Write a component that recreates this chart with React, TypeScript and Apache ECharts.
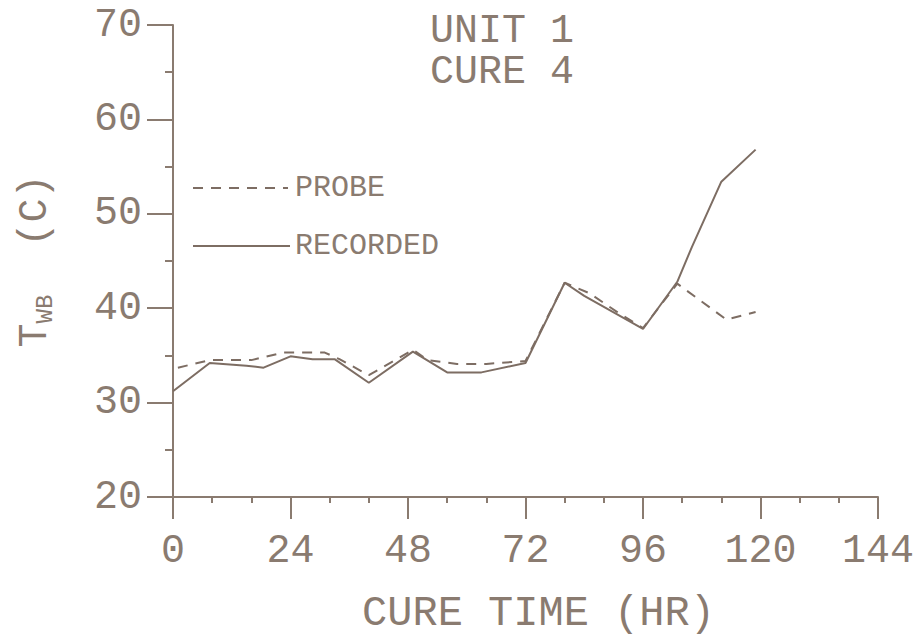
import React, { useEffect, useRef } from "react";
import * as echarts from "echarts";

// Cure time (hr) and wet-bulb temperature (C)
const recordedHours = [0, 7.5, 15, 18.5, 24, 28.5, 33, 40, 49, 56, 63, 72, 80, 84, 96, 103, 106, 112, 119];
const recordedTemps = [31.2, 34.2, 33.9, 33.7, 34.9, 34.6, 34.6, 32.1, 35.4, 33.2, 33.2, 34.2, 42.7, 41.3, 37.8, 42.8, 46.5, 53.4, 56.8];

const probeHours = [1, 7.5, 16, 22.5, 31, 34, 40, 49, 52, 58, 64, 72, 80, 85, 91, 96, 103, 113, 119];
const probeTemps = [33.7, 34.5, 34.5, 35.3, 35.3, 34.6, 32.9, 35.6, 34.5, 34.1, 34.1, 34.4, 42.7, 41.6, 39.5, 37.9, 42.6, 38.8, 39.6];

const xTicks = [0, 24, 48, 72, 96, 120, 144];
const yTicks = [20, 30, 40, 50, 60, 70];

const titleLines = ["UNIT 1", "CURE 4"];
const seriesNames = ["PROBE", "RECORDED"];

const INK = "#8a7b70";
const LINE = "#7d6d63";
const FONT = "Liberation Mono";

export default function App() {
  const ref = useRef<HTMLDivElement>(null);
  useEffect(() => {
    if (!ref.current) return;
    const chart = echarts.init(ref.current, null, { renderer: "svg" });
    const probe = probeHours.map((h, i) => [h, probeTemps[i]]);
    const recorded = recordedHours.map((h, i) => [h, recordedTemps[i]]);
    chart.setOption({
      animation: false,
      backgroundColor: "#ffffff",
      title: {
        text: titleLines.join("\n"),
        left: 425,
        top: 6,
        textStyle: { fontFamily: FONT, fontSize: 40, fontWeight: "normal", color: INK, lineHeight: 41 },
      },
      grid: { left: 173, right: 36, top: 25, bottom: 144, outerBoundsMode: "none", containLabel: false },
      xAxis: {
        type: "value",
        min: xTicks[0],
        max: xTicks[xTicks.length - 1],
        interval: 24,
        name: "CURE TIME (HR)",
        nameLocation: "middle",
        nameGap: 96,
        nameTextStyle: { fontFamily: FONT, fontSize: 42, color: INK, padding: [0, 0, 0, 26] },
        axisLine: { show: true, onZero: false, lineStyle: { color: INK, width: 2 } },
        axisTick: { show: true, length: 22, lineStyle: { color: INK, width: 2 } },
        minorTick: { show: true, splitNumber: 3, length: 6, lineStyle: { color: INK, width: 2 } },
        splitLine: { show: false },
        minorSplitLine: { show: false },
        axisLabel: {
          margin: 34,
          fontFamily: FONT,
          fontSize: 40,
          color: INK,
          formatter: (v: number) => (xTicks.includes(v) ? String(v) : ""),
        },
      },
      yAxis: {
        type: "value",
        min: yTicks[0],
        max: yTicks[yTicks.length - 1],
        interval: 10,
        name: "{t|T}{s|WB}{t|  (C)}",
        nameLocation: "middle",
        nameGap: 116,
        nameRotate: 90,
        nameTextStyle: {
          color: INK,
          rich: {
            t: { fontFamily: FONT, fontSize: 40, color: INK, lineHeight: 44, verticalAlign: "middle" },
            s: { fontFamily: FONT, fontSize: 24, color: INK, lineHeight: 44, verticalAlign: "bottom", padding: [14, 0, 0, 0] },
          },
        },
        axisLine: { show: true, onZero: false, lineStyle: { color: INK, width: 2 } },
        axisTick: { show: true, length: 26, lineStyle: { color: INK, width: 2 } },
        minorTick: { show: true, splitNumber: 2, length: 8, lineStyle: { color: INK, width: 2 } },
        splitLine: { show: false },
        minorSplitLine: { show: false },
        axisLabel: { margin: 31, fontFamily: FONT, fontSize: 40, color: INK },
      },
      graphic: [
        { type: "line", shape: { x1: 193, y1: 188, x2: 288, y2: 188 }, style: { stroke: LINE, lineWidth: 2, lineDash: [10, 8] } },
        { type: "text", x: 295, y: 188, style: { text: seriesNames[0], font: `30px "${FONT}"`, fill: INK, textVerticalAlign: "middle", verticalAlign: "middle" } },
        { type: "line", shape: { x1: 193, y1: 246, x2: 290, y2: 246 }, style: { stroke: LINE, lineWidth: 2 } },
        { type: "text", x: 295, y: 246, style: { text: seriesNames[1], font: `30px "${FONT}"`, fill: INK, textVerticalAlign: "middle", verticalAlign: "middle" } },
      ],
      series: [
        {
          name: seriesNames[0],
          type: "line",
          data: probe,
          symbol: "none",
          lineStyle: { color: LINE, width: 2, type: [10, 8] },
        },
        {
          name: seriesNames[1],
          type: "line",
          data: recorded,
          symbol: "none",
          lineStyle: { color: LINE, width: 2, type: "solid" },
        },
      ],
    });
    return () => chart.dispose();
  }, []);
  return <div ref={ref} style={{ position: "fixed", left: 0, top: 0, width: 914, height: 641, background: "#fff" }} />;
}
